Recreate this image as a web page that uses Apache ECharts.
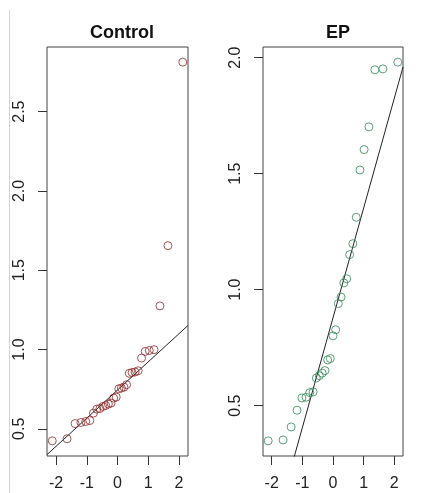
<!DOCTYPE html>
<html>
<head>
<meta charset="utf-8">
<script src="https://cdn.jsdelivr.net/npm/echarts@6/dist/echarts.min.js"></script>
<style>
  html, body { margin: 0; padding: 0; background: #fff; }
  #chart { width: 434px; height: 493px; }
</style>
</head>
<body>
<div id="chart"></div>
<script>
// Normal Q-Q plots of two groups: theoretical quantiles vs. sample values.
const panelTitles = ['Control', 'EP'];
const xTickValues = [-2, -1, 0, 1, 2];
const controlYTicks = [0.5, 1.0, 1.5, 2.0, 2.5];
const epYTicks = [0.5, 1.0, 1.5, 2.0];

// Theoretical normal quantiles, n = 30
const controlTheoretical = [
  -2.128, -1.645, -1.383, -1.192, -1.036, -0.903, -0.784, -0.674, -0.573, -0.477,
  -0.385, -0.297, -0.210, -0.126, -0.042, 0.042, 0.126, 0.210, 0.297, 0.385,
  0.477, 0.573, 0.674, 0.784, 0.903, 1.036, 1.192, 1.383, 1.645, 2.128
];
const controlValues = [
  0.424, 0.437, 0.533, 0.540, 0.546, 0.552, 0.599, 0.624, 0.628, 0.641,
  0.647, 0.656, 0.662, 0.694, 0.700, 0.752, 0.757, 0.763, 0.778, 0.850,
  0.855, 0.858, 0.866, 0.946, 0.988, 0.994, 0.999, 1.275, 1.655, 2.812
];

// Theoretical normal quantiles, n = 29
const epTheoretical = [
  -2.114, -1.628, -1.365, -1.172, -1.015, -0.879, -0.758, -0.648, -0.544, -0.447,
  -0.353, -0.262, -0.174, -0.087, 0.000, 0.087, 0.174, 0.262, 0.353, 0.447,
  0.544, 0.648, 0.758, 0.879, 1.015, 1.172, 1.365, 1.628, 2.114
];
const epValues = [
  0.348, 0.352, 0.408, 0.480, 0.533, 0.536, 0.556, 0.559, 0.619, 0.629,
  0.640, 0.651, 0.697, 0.703, 0.801, 0.827, 0.940, 0.968, 1.029, 1.047,
  1.151, 1.198, 1.312, 1.516, 1.604, 1.702, 1.948, 1.952, 1.981
];

const controlColor = '#8E2A2A';
const epColor = '#2F8A55';
const FONT = '"Liberation Sans", Arial, sans-serif';

// Sample quantile (type 7) of sorted values
function quantile7(sorted, p) {
  const h = (sorted.length - 1) * p;
  const lo = Math.floor(h);
  const hi = Math.min(lo + 1, sorted.length - 1);
  return sorted[lo] + (h - lo) * (sorted[hi] - sorted[lo]);
}
// Reference line through the first and third quartiles
const Z75 = 0.6744897502;
function qqLine(values, xmin, xmax) {
  const s = values.slice().sort((a, b) => a - b);
  const q1 = quantile7(s, 0.25), q3 = quantile7(s, 0.75);
  const slope = (q3 - q1) / (2 * Z75);
  const intercept = (q1 + q3) / 2;
  return [[xmin, intercept + slope * xmin], [xmax, intercept + slope * xmax]];
}
function paddedRange(arr) {
  const lo = Math.min(...arr), hi = Math.max(...arr);
  const pad = (hi - lo) * 0.04;
  return [lo - pad, hi + pad];
}

const cx = paddedRange(controlTheoretical), cy = paddedRange(controlValues);
const ex = paddedRange(epTheoretical), ey = paddedRange(epValues);

function xAxisDef(gi, range) {
  return {
    type: 'value', gridIndex: gi, min: range[0], max: range[1], position: 'bottom',
    axisLine: { show: false, onZero: false },
    splitLine: { show: false },
    axisTick: { show: true, length: 9, lineStyle: { color: '#333', width: 1 }, customValues: xTickValues },
    axisLabel: { fontSize: 16, color: '#222', fontFamily: FONT, margin: 20, customValues: xTickValues }
  };
}
function yAxisDef(gi, range, ticks) {
  return {
    type: 'value', gridIndex: gi, min: range[0], max: range[1], position: 'left',
    axisLine: { show: false, onZero: false },
    splitLine: { show: false },
    axisTick: { show: true, length: 9, lineStyle: { color: '#333', width: 1 }, customValues: ticks },
    axisLabel: {
      fontSize: 16, color: '#222', fontFamily: FONT, rotate: 90, margin: 19,
      customValues: ticks, formatter: v => v.toFixed(1)
    }
  };
}
function pointSeries(i, xs, ys, color) {
  return {
    type: 'scatter', xAxisIndex: i, yAxisIndex: i,
    data: xs.map((x, k) => [x, ys[k]]),
    symbol: 'circle', symbolSize: 8,
    itemStyle: { color: 'rgba(0,0,0,0)', borderColor: color, borderWidth: 1 },
    silent: true, z: 3
  };
}
function lineSeries(i, pts) {
  return {
    type: 'line', xAxisIndex: i, yAxisIndex: i, data: pts,
    symbol: 'none', clip: true, silent: true,
    lineStyle: { color: '#222', width: 1 }, z: 2
  };
}

const chart = echarts.init(document.getElementById('chart'), null, { renderer: 'canvas' });
chart.setOption({
  animation: false,
  backgroundColor: '#fff',
  title: [
    { text: panelTitles[0], left: 117, top: 19, textAlign: 'center',
      textStyle: { fontSize: 18, fontWeight: 'bold', color: '#111', fontFamily: FONT } },
    { text: panelTitles[1], left: 333, top: 19, textAlign: 'center',
      textStyle: { fontSize: 18, fontWeight: 'bold', color: '#111', fontFamily: FONT } }
  ],
  grid: [
    { left: 47, top: 47, width: 141, height: 409, show: true, borderColor: '#444', borderWidth: 1, backgroundColor: 'transparent' },
    { left: 263, top: 47, width: 140, height: 409, show: true, borderColor: '#444', borderWidth: 1, backgroundColor: 'transparent' }
  ],
  xAxis: [xAxisDef(0, cx), xAxisDef(1, ex)],
  yAxis: [yAxisDef(0, cy, controlYTicks), yAxisDef(1, ey, epYTicks)],
  graphic: [
    { type: 'line', shape: { x1: 9.5, y1: 10, x2: 9.5, y2: 493 }, style: { stroke: '#d4d4d4', lineWidth: 1 }, silent: true }
  ],
  series: [
    lineSeries(0, qqLine(controlValues, cx[0], cx[1])),
    pointSeries(0, controlTheoretical, controlValues, controlColor),
    lineSeries(1, qqLine(epValues, ex[0], ex[1])),
    pointSeries(1, epTheoretical, epValues, epColor)
  ]
});
</script>
</body>
</html>
